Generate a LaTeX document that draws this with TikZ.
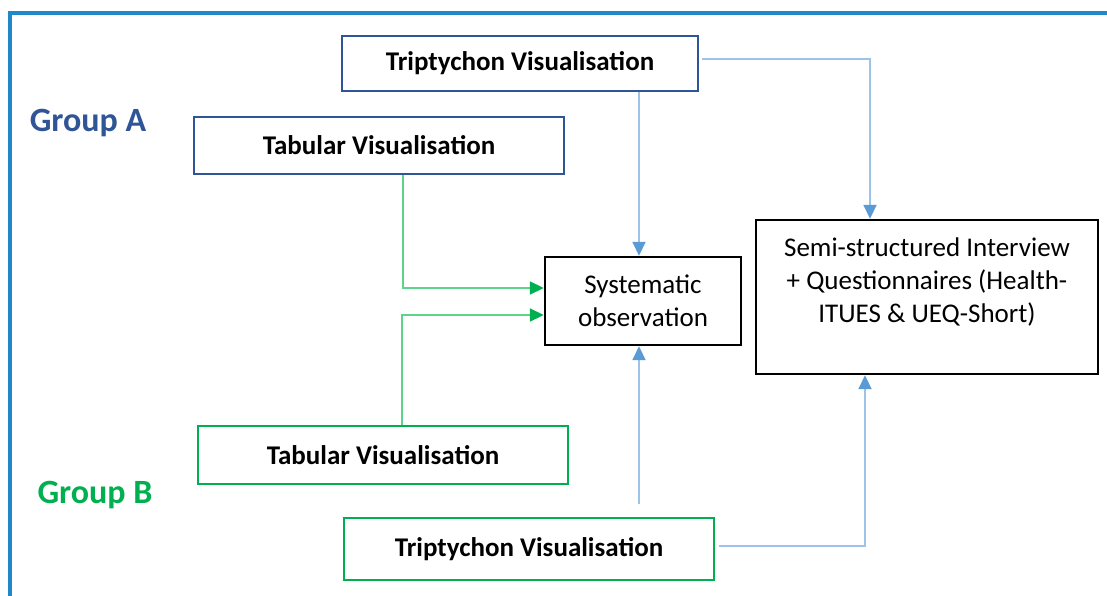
\documentclass[tikz,border=0pt]{standalone}
\usepackage{fontspec}
\setmainfont{Carlito}
\usetikzlibrary{arrows.meta}
\definecolor{frameblue}{HTML}{1E88C8}
\definecolor{darkblue}{HTML}{2F5597}
\definecolor{grp}{HTML}{00B050}
\definecolor{lineblue}{HTML}{9DC3E6}
\definecolor{tipblue}{HTML}{5B9BD5}
\definecolor{linegreen}{HTML}{5ED38A}
\tikzset{
  box/.style={draw, line width=2.4pt, rectangle, inner sep=0pt, align=center,
    font=\fontsize{27}{33}\selectfont},
  boldbox/.style={box, font=\fontsize{27}{33}\selectfont\bfseries},
  bluebox/.style={boldbox, draw=darkblue},
  greenbox/.style={boldbox, draw=grp},
  blackbox/.style={box, draw=black},
  grouplabel/.style={font=\fontsize{34}{40}\selectfont\bfseries, inner sep=0pt},
  blconn/.style={draw=lineblue, line width=1.8pt,
    -{Triangle[length=14pt,width=13pt,color=tipblue]}},
  grconn/.style={draw=linegreen, line width=1.8pt,
    -{Triangle[length=14pt,width=13pt,color=grp]}},
  frameline/.style={draw=frameblue, line width=3.5pt}
}
\begin{document}
\begin{tikzpicture}[x=1pt,y=-1pt]
\useasboundingbox (0,0) rectangle (1107,596);
\fill[white] (0,0) rectangle (1107,596);
\draw[frameline] (10,598) -- (10,13) -- (1109,13);

\node[bluebox, minimum width=356pt, minimum height=55pt] (tripA) at (520,63.5) {Triptychon Visualisation};
\node[bluebox, minimum width=370pt, minimum height=57pt] (tabA) at (379,145.5) {Tabular Visualisation};
\node[blackbox, minimum width=196pt, minimum height=88pt] (sys) at (643,301) {Systematic\\observation};
\node[blackbox, minimum width=342pt, minimum height=154pt] (semi) at (927,297) {Semi-structured Interview\\+ Questionnaires (Health-\\ITUES \& UEQ-Short)\\\mbox{}};
\node[greenbox, minimum width=370pt, minimum height=58pt] (tabB) at (383,455) {Tabular Visualisation};
\node[greenbox, minimum width=370pt, minimum height=62pt] (tripB) at (529,549) {Triptychon Visualisation};

\node[grouplabel, text=darkblue] (grpA) at (88,123) {Group A};
\node[grouplabel, text=grp] (grpB) at (95,495) {Group B};

\coordinate (tbtop) at ([xshift=110pt, yshift=13pt]tripB.north);
\coordinate (systop) at ([xshift=-4pt]sys.north);
\coordinate (sysbot) at ([xshift=-4pt]sys.south);

\draw[blconn] ([xshift=3pt]tripA.east) ++(0,-4.5) -| ([xshift=-57pt]semi.north);
\draw[blconn] (tripA.south -| systop) -- (systop);
\draw[grconn] ([xshift=24pt]tabA.south) |- ([yshift=13pt]sys.west);
\draw[grconn] ([xshift=19pt]tabB.north) |- ([yshift=-14pt]sys.west);
\draw[blconn] (tbtop) -- (sysbot);
\draw[blconn] ([xshift=4pt,yshift=3pt]tripB.east) -| ([xshift=-62pt]semi.south);
\end{tikzpicture}
\end{document}
